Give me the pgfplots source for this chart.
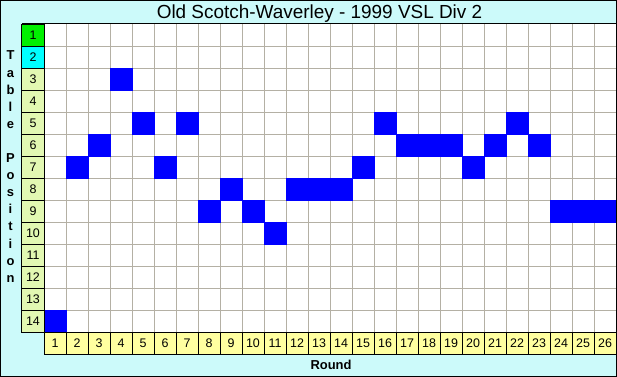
\documentclass[border=0pt]{standalone}
\usepackage{fontspec}
\setmainfont{Liberation Sans}
\usepackage{pgfplots}
\pgfplotsset{compat=1.18}
\definecolor{bgcyan}{RGB}{204,250,250}
\definecolor{gridgray}{RGB}{180,176,164}
\definecolor{rowlab}{RGB}{226,248,178}
\definecolor{collab}{RGB}{255,255,160}
\definecolor{pos1}{RGB}{0,240,0}
\definecolor{pos2}{RGB}{0,255,255}
\definecolor{cellblue}{RGB}{0,0,255}
\begin{document}
\begin{tikzpicture}
\useasboundingbox (-44bp,-45bp) rectangle (573bp,332bp);
\fill[bgcyan] (-44bp,-45bp) rectangle (573bp,332bp);
\fill[white] (0,0) rectangle (572bp,308bp);
\begin{axis}[
  at={(0,0)}, anchor=south west,
  scale only axis, width=572bp, height=308bp,
  xmin=0.5, xmax=26.5, ymin=0.5, ymax=14.5,
  y dir=reverse,
  axis line style={draw=none},
  tick style={draw=none},
  xtick={1.5,2.5,...,25.5}, ytick={1.5,2.5,...,13.5},
  xticklabels={}, yticklabels={},
  grid=major,
  major grid style={gridgray, line width=1bp},
  clip=false,
]
\addplot[only marks, mark=square*, mark size=11bp, color=cellblue,
  mark options={line width=0.3bp, fill=cellblue}] coordinates {
(1,14) (2,7) (3,6) (4,3) (5,5) (6,7) (7,5) (8,9) (9,8) (10,9)
(11,10) (12,8) (13,8) (14,8) (15,7) (16,5) (17,6) (18,6) (19,6)
(20,7) (21,6) (22,5) (23,6) (24,9) (25,9) (26,9)
};
\draw[line width=1bp, fill=pos1] (axis cs:-0.5,0.5) rectangle (axis cs:0.5,1.5);
\node[font=\fontsize{12.5}{14}\selectfont] at (axis cs:0,1) {1};
\draw[line width=1bp, fill=pos2] (axis cs:-0.5,1.5) rectangle (axis cs:0.5,2.5);
\node[font=\fontsize{12.5}{14}\selectfont] at (axis cs:0,2) {2};
\pgfplotsinvokeforeach{3,...,14}{
  \draw[line width=1bp, fill=rowlab] (axis cs:-0.5,#1-0.5) rectangle (axis cs:0.5,#1+0.5);
  \node[font=\fontsize{12.5}{14}\selectfont] at (axis cs:0,#1) {#1};
}
\pgfplotsinvokeforeach{1,...,26}{
  \draw[line width=1bp, fill=collab] (axis cs:#1-0.5,14.5) rectangle (axis cs:#1+0.5,15.5);
  \node[font=\fontsize{12.5}{14}\selectfont] at (axis cs:#1,15) {#1};
}
\end{axis}
\draw[line width=1bp] (-22bp,308bp) -- (573bp,308bp);
\draw[line width=1bp] (0,0) rectangle (572bp,308bp);
\draw[line width=1bp] (-43.5bp,-44.5bp) rectangle (572.5bp,331.5bp);
\node[anchor=base, font=\fontsize{19}{22}\selectfont] at (275.5bp,313bp) {Old Scotch-Waverley - 1999 VSL Div 2};
\node[anchor=base, font=\bfseries\fontsize{13}{15}\selectfont] at (287bp,-37bp) {Round};
\foreach \ch [count=\i from 0] in {T,a,b,l,e,{},P,o,s,i,t,i,o,n}{
  \node[anchor=base, font=\bfseries\fontsize{13}{15}\selectfont, inner sep=0pt] at (-33.5bp,{272bp-\i*17.1bp}) {\ch};
}
\end{tikzpicture}
\end{document}
